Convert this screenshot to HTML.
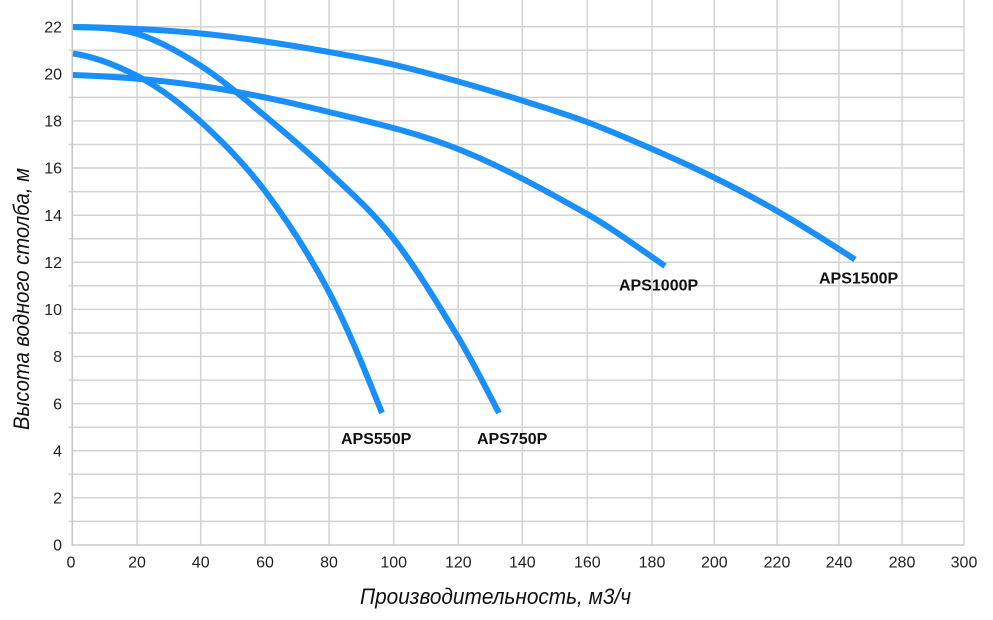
<!DOCTYPE html>
<html>
<head>
<meta charset="utf-8">
<style>
html,body{margin:0;padding:0;background:#fff;}
svg{display:block;}
text{font-family:"Liberation Sans","Noto Sans CJK SC",sans-serif;}
</style>
</head>
<body>
<svg width="993" height="620" viewBox="0 0 993 620" xmlns="http://www.w3.org/2000/svg">
<rect width="993" height="620" fill="#fff"/>
<g stroke="#d3d3d3" stroke-width="1.5" fill="none">
  <line x1="69" y1="521.4" x2="964" y2="521.4"/>
  <line x1="69" y1="474.3" x2="964" y2="474.3"/>
  <line x1="69" y1="427.2" x2="964" y2="427.2"/>
  <line x1="69" y1="380.1" x2="964" y2="380.1"/>
  <line x1="69" y1="333.0" x2="964" y2="333.0"/>
  <line x1="69" y1="285.8" x2="964" y2="285.8"/>
  <line x1="69" y1="238.7" x2="964" y2="238.7"/>
  <line x1="69" y1="191.6" x2="964" y2="191.6"/>
  <line x1="69" y1="144.5" x2="964" y2="144.5"/>
  <line x1="69" y1="97.4" x2="964" y2="97.4"/>
  <line x1="69" y1="50.2" x2="964" y2="50.2"/>
  <line x1="72" y1="497.9" x2="964" y2="497.9"/>
  <line x1="72" y1="450.8" x2="964" y2="450.8"/>
  <line x1="72" y1="403.6" x2="964" y2="403.6"/>
  <line x1="72" y1="356.5" x2="964" y2="356.5"/>
  <line x1="72" y1="309.4" x2="964" y2="309.4"/>
  <line x1="72" y1="262.3" x2="964" y2="262.3"/>
  <line x1="72" y1="215.2" x2="964" y2="215.2"/>
  <line x1="72" y1="168.0" x2="964" y2="168.0"/>
  <line x1="72" y1="120.9" x2="964" y2="120.9"/>
  <line x1="72" y1="73.8" x2="964" y2="73.8"/>
  <line x1="72" y1="26.7" x2="964" y2="26.7"/>
  <line x1="137" y1="0" x2="137" y2="545"/>
  <line x1="200.7" y1="0" x2="200.7" y2="545"/>
  <line x1="265" y1="0" x2="265" y2="545"/>
  <line x1="329" y1="0" x2="329" y2="545"/>
  <line x1="393.7" y1="0" x2="393.7" y2="545"/>
  <line x1="458.3" y1="0" x2="458.3" y2="545"/>
  <line x1="522.3" y1="0" x2="522.3" y2="545"/>
  <line x1="587.3" y1="0" x2="587.3" y2="545"/>
  <line x1="652" y1="0" x2="652" y2="545"/>
  <line x1="714.3" y1="0" x2="714.3" y2="545"/>
  <line x1="777" y1="0" x2="777" y2="545"/>
  <line x1="839" y1="0" x2="839" y2="545"/>
  <line x1="902" y1="0" x2="902" y2="545"/>
  <line x1="964" y1="0" x2="964" y2="545"/>
</g>
<g stroke="#c8c8c8" stroke-width="1.6">
  <line x1="72.3" y1="0" x2="72.3" y2="545.7"/>
  <line x1="72" y1="545" x2="964" y2="545"/>
</g>

<g font-size="16" fill="#222" text-anchor="end">
  <text x="62" y="550.7">0</text>
  <text x="62" y="503.6">2</text>
  <text x="62" y="456.5">4</text>
  <text x="62" y="409.3">6</text>
  <text x="62" y="362.2">8</text>
  <text x="62" y="315.1">10</text>
  <text x="62" y="268.0">12</text>
  <text x="62" y="220.9">14</text>
  <text x="62" y="173.7">16</text>
  <text x="62" y="126.6">18</text>
  <text x="62" y="79.5">20</text>
  <text x="62" y="32.4">22</text>
</g>
<g font-size="16" fill="#222" text-anchor="middle">
  <text x="71" y="567.5">0</text>
  <text x="137" y="567.5">20</text>
  <text x="200.7" y="567.5">40</text>
  <text x="265" y="567.5">60</text>
  <text x="329" y="567.5">80</text>
  <text x="393.7" y="567.5">100</text>
  <text x="458.3" y="567.5">120</text>
  <text x="522.3" y="567.5">140</text>
  <text x="587.3" y="567.5">160</text>
  <text x="652" y="567.5">180</text>
  <text x="714.3" y="567.5">200</text>
  <text x="777" y="567.5">220</text>
  <text x="839" y="567.5">240</text>
  <text x="902" y="567.5">280</text>
  <text x="964" y="567.5">300</text>
</g>

<text x="360" y="604" font-size="22" font-style="italic" fill="#111" textLength="271" lengthAdjust="spacingAndGlyphs">Производительность, м3/ч</text>
<text transform="translate(29,430) rotate(-90)" x="0" y="0" font-size="22" font-style="italic" fill="#111" textLength="262" lengthAdjust="spacingAndGlyphs">Высота водного столба, м</text>

<g fill="none" stroke="#1a8ffa" stroke-width="6" stroke-linecap="butt" stroke-linejoin="round">
  <path d="M73,27 C94.7,27.2 116.3,27.9 138,29 C159,30.1 180,31.4 201,33.5 C222.3,35.6 243.7,38.4 265,41.5 C286.3,44.6 307.7,48.2 329,52 C350.3,55.8 371.7,59.6 393,64.5 C414.7,69.5 436.3,75.5 458,81.5 C479.3,87.5 500.7,93.8 522,100.5 C543.7,107.3 565.3,113.9 587,122 C608.7,130.1 630.3,139.5 652,149 C672.7,158 693.3,167.3 714,177.5 C735,187.9 756,198.8 777,211 C803,226.1 829,242.6 855,259.5"/>
  <path d="M73,75 C115.7,76.3 158.3,79.8 201,86 C243.7,92.2 286.3,101.5 329,112 C372,122.5 415,132 458,149 C501,166 544,189.7 587,214 C613,228.7 639,248.3 665,266"/>
  <path d="M73,27 C94.6,27.4 116.1,27.4 137.7,34 C158.8,40.4 179.9,52.4 201,66 C222.3,79.7 243.7,98.3 265,116 C286.3,133.7 307.7,151.7 329,172 C350.3,192.3 371.7,210.7 393,238 C414.7,265.7 436.3,301.2 458,337 C471.7,359.6 485.3,387 499,413"/>
  <path d="M73,53.5 C95.7,56.9 118.3,65.9 141,78 C161,88.7 181,103.8 201,122 C222.3,141.4 243.7,162.7 265,191 C286.3,219.3 307.7,251.5 329,292 C346.7,325.5 364.3,368.8 382,413"/>
</g>

<g font-size="16" font-weight="bold" fill="#111">
  <text x="341" y="444">APS550P</text>
  <text x="477" y="444">APS750P</text>
  <text x="619" y="290.5">APS1000P</text>
  <text x="819" y="283.3">APS1500P</text>
</g>
</svg>
</body>
</html>
